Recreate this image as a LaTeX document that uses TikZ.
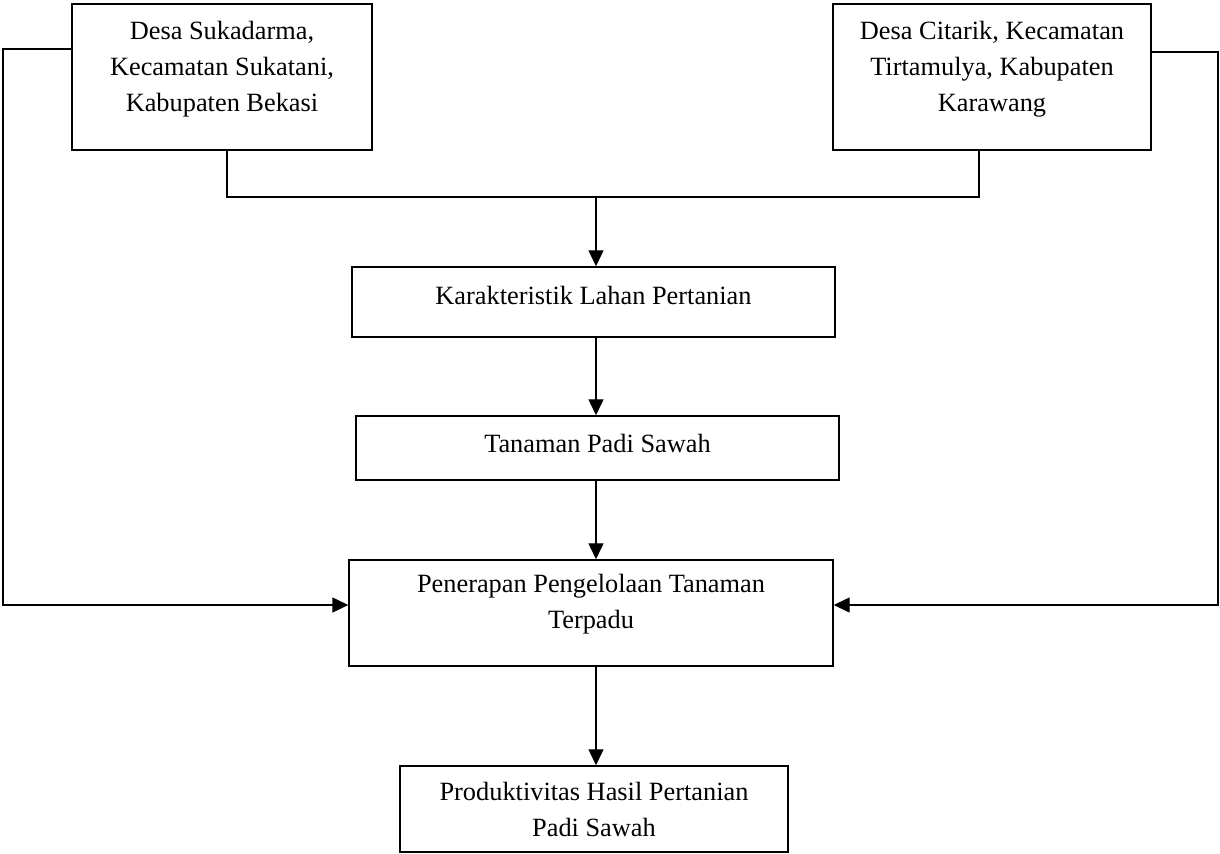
\documentclass[tikz,border=0pt]{standalone}
\usepackage{fontspec}
\setmainfont{Liberation Serif}
\usetikzlibrary{arrows.meta,calc}

\begin{document}
\begin{tikzpicture}[x=0.02cm, y=-0.02cm,
    kotak/.style={draw, line width=0.85pt, align=center, inner sep=0pt, font=\fontsize{15}{20.5}\selectfont},
    garis/.style={line width=0.8pt},
    panah/.style={line width=0.8pt, -{Triangle[length=0.32cm, width=0.3cm]}}]
    \useasboundingbox (0,0) rectangle (1220,853);
    % lokasi penelitian
    \node[kotak, minimum width=6cm, minimum height=2.92cm] (sukadarma) at (222,77) {Desa Sukadarma,\\ Kecamatan Sukatani,\\ Kabupaten Bekasi\\[-8pt]\mbox{}};
    \node[kotak, minimum width=6.36cm, minimum height=2.92cm] (citarik) at (992,77) {Desa Citarik, Kecamatan\\ Tirtamulya, Kabupaten\\ Karawang\\[-8pt]\mbox{}};
    % alur tengah
    \node[kotak, minimum width=9.66cm, minimum height=1.4cm, text depth=8pt] (lahan) at (593.5,302) {Karakteristik Lahan Pertanian};
    \node[kotak, minimum width=9.66cm, minimum height=1.28cm, text depth=5.6pt] (padi) at (597.5,448) {Tanaman Padi Sawah};
    \node[kotak, minimum width=9.68cm, minimum height=2.12cm] (ptt) at (591,613) {Penerapan Pengelolaan Tanaman\\ Terpadu\\[-7pt]\mbox{}};
    \node[kotak, minimum width=7.76cm, minimum height=1.72cm] (hasil) at (594,809) {Produktivitas Hasil Pertanian\\ Padi Sawah};
    % titik belok
    \coordinate (ja) at (227,197);
    \coordinate (jb) at (979,197);
    \coordinate (pusat) at (596,197);
    \coordinate (kiri1) at (3,49);
    \coordinate (kiri2) at (3,605);
    \coordinate (kanan1) at (1218,52);
    \coordinate (kanan2) at (1218,605);
    % penghubung
    \draw[garis] (sukadarma.south -| ja) -- (ja) -- (jb) -- (citarik.south -| jb);
    \draw[panah] (pusat) -- (pusat |- lahan.north);
    \draw[panah] (pusat |- lahan.south) -- (pusat |- padi.north);
    \draw[panah] (pusat |- padi.south) -- (pusat |- ptt.north);
    \draw[panah] (pusat |- ptt.south) -- (pusat |- hasil.north);
    \draw[panah] (sukadarma.west |- kiri1) -- (kiri1) -- (kiri2) -- (kiri2 -| ptt.west);
    \draw[panah] (citarik.east |- kanan1) -- (kanan1) -- (kanan2) -- (kanan2 -| ptt.east);
\end{tikzpicture}
\end{document}
